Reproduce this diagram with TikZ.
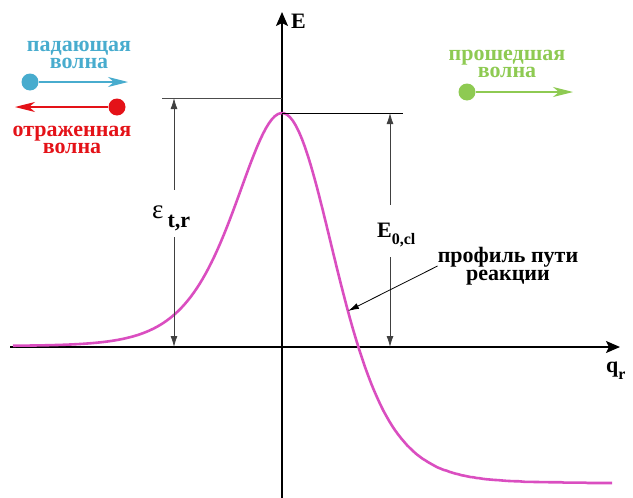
\documentclass[tikz,border=0pt]{standalone}
\usepackage{fontspec}
\setmainfont{Liberation Serif}
\usetikzlibrary{arrows.meta, positioning}

\definecolor{incblue}{RGB}{72,172,206}
\definecolor{refred}{RGB}{228,18,24}
\definecolor{trgreen}{RGB}{142,202,82}
\definecolor{profpink}{RGB}{218,78,192}
\setlength{\lineskiplimit}{-20pt}

\begin{document}
\begin{tikzpicture}[
  x=1pt, y=-1pt,
  every node/.style={font=\fontsize{22}{15}\selectfont\bfseries, inner sep=0pt},
  twoline/.style={align=center, font=\fontsize{22}{17.5}\selectfont\bfseries},
  axis/.style={line width=1.6pt, -{Stealth[length=14pt, width=12pt, inset=3pt]}},
  level/.style={line width=0.8pt},
  dim/.style={line width=0.8pt, draw=black!75, -{Latex[length=11pt, width=7pt]}},
  wave/.style={line width=1.2pt, -{Stealth[length=20pt, width=10pt, inset=6pt]}},
  dot/.style={circle, minimum size=17pt},
  profile/.style={line width=2.6pt, profpink},
  pointer/.style={line width=0.8pt, -{Latex[length=11pt, width=6pt]}},
  declare function={tt(\x)=1/(1+exp(-((\x-282)/33.5-0.231)));
                    eck(\x)=1-137*tt(\x)+1190.2*tt(\x)*(1-tt(\x));},
]
\useasboundingbox (0,0) rectangle (633,498);

% axes
\coordinate (xl) at (10,347);
\coordinate (xr) at (620,347);
\coordinate (yb) at (282,498);
\coordinate (yt) at (282,12);
\draw[axis] (xl) -- (xr);
\draw[axis] (yb) -- (yt);
\node[anchor=base west] (elab) at (291,28) {E};
\node[anchor=base west] (qlab) at (606,372) {q\raisebox{-7pt}{\fontsize{16}{16}\selectfont r}};

% reaction path profile
\draw[profile] plot[domain=13:612, samples=200] (\x, {347-eck(\x)});

% barrier levels
\coordinate (tl) at (162,98);
\coordinate (tr) at (282,98);
\coordinate (peak) at (282,113);
\coordinate (pr) at (403,113);
\draw[level, black!70] (tl) -- (tr);
\draw[level] (peak) -- (pr);

% epsilon_t,r
\coordinate (ttop) at (174,98);
\coordinate (tbot) at (174,347);
\node[anchor=base west, text height=28pt, text depth=19pt] (etr) at (152,218)
  {\fontsize{27}{27}\selectfont\mdseries ε\kern4pt\raisebox{-9pt}{\fontsize{22}{22}\selectfont\bfseries t,r}};
\draw[dim] (etr.north -| ttop) -- (ttop);
\draw[dim] (etr.south -| tbot) -- (tbot);

% E_0,cl
\coordinate (ctop) at (390,113);
\coordinate (cbot) at (390,347);
\node[anchor=base west, text height=32pt, text depth=20pt] (ecl) at (377,237)
  {E\raisebox{-7pt}{\fontsize{16}{16}\selectfont 0,cl}};
\draw[dim] (ecl.north -| ctop) -- (ctop);
\draw[dim] (ecl.south -| cbot) -- (cbot);

% profile label
\coordinate (onpath) at (348,311);
\node[twoline] (proflab) at (508,266) {профиль пути\\реакции};
\draw[pointer] (proflab.west) -- (onpath);

% incident wave
\node[twoline, text=incblue] (inctxt) at (79,55) {падающая\\волна};
\node[dot, fill=incblue] (incdot) at (30,82) {};
\coordinate (incend) at (128,82);
\draw[wave, incblue] (incdot) -- (incend);

% reflected wave
\node[dot, fill=refred] (refdot) at (117,107) {};
\coordinate (refend) at (15,107);
\draw[wave, refred] (refdot) -- (refend);
\node[twoline, text=refred] (reftxt) at (72,140) {отраженная\\волна};

% transmitted wave
\node[twoline, text=trgreen] (trtxt) at (507,64) {прошедшая\\волна};
\node[dot, fill=trgreen] (trdot) at (467,92) {};
\coordinate (trend) at (573,92);
\draw[wave, trgreen] (trdot) -- (trend);

\end{tikzpicture}
\end{document}
